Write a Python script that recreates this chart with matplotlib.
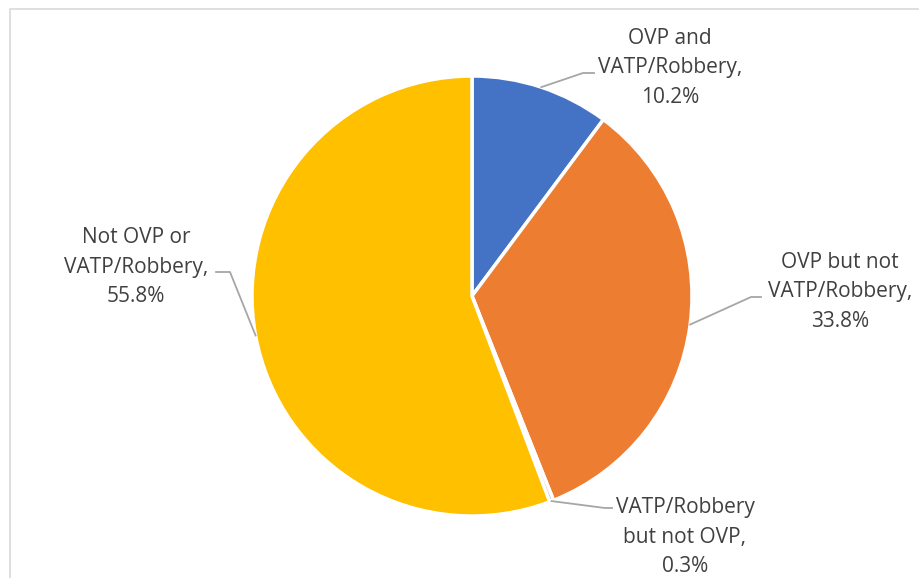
import numpy as np
import matplotlib.pyplot as plt

labels = ["OVP and\nVATP/Robbery,\n10.2%",
          "OVP but not\nVATP/Robbery,\n33.8%",
          "VATP/Robbery\nbut not OVP,\n0.3%",
          "Not OVP or\nVATP/Robbery,\n55.8%"]
values = [10.2, 33.8, 0.3, 55.8]
colors = ["#4472C4", "#ED7D31", "#A5A5A5", "#FFC000"]

W, H = 920, 578
fig = plt.figure(figsize=(9.2, 5.78), dpi=100)
ax = fig.add_axes([0, 0, 1, 1])

cx, cy, r = 472, H - 296, 220
wedges, _ = ax.pie(values, colors=colors, startangle=90, counterclock=False,
                   center=(cx, cy), radius=r, frame=True,
                   wedgeprops=dict(edgecolor="white", linewidth=2.5))
ax.set_xlim(0, W)
ax.set_ylim(0, H)
ax.set_aspect("equal")
ax.axis("off")

# chart border (left / top)
ax.plot([10, 10, W + 5], [-5, H - 9, H - 9], color="#D9D9D9", lw=1.2, clip_on=False)

# label layout (pixel coords from top-left)
text_pos = [(670, 68), (840, 292), (685, 537), (136, 267)]
elbow = [(583, 73), (751, 297), (605, 508), (230, 272)]
tail = [(594, 73), (761, 297), (612, 508), (216, 272)]

for i, w in enumerate(wedges):
    mid = np.deg2rad((w.theta1 + w.theta2) / 2)
    px, py = cx + r * np.cos(mid), cy + r * np.sin(mid)
    ex, ey = elbow[i]
    tx, ty = tail[i]
    ax.plot([px, ex, tx], [py, H - ey, H - ty], color="#A6A6A6", lw=1.3)
    ax.text(text_pos[i][0], H - text_pos[i][1], labels[i], ha="center", va="center",
            fontsize=15, color="#404040", linespacing=1.55, family="Open Sans")

fig.savefig("out.png", dpi=100)
